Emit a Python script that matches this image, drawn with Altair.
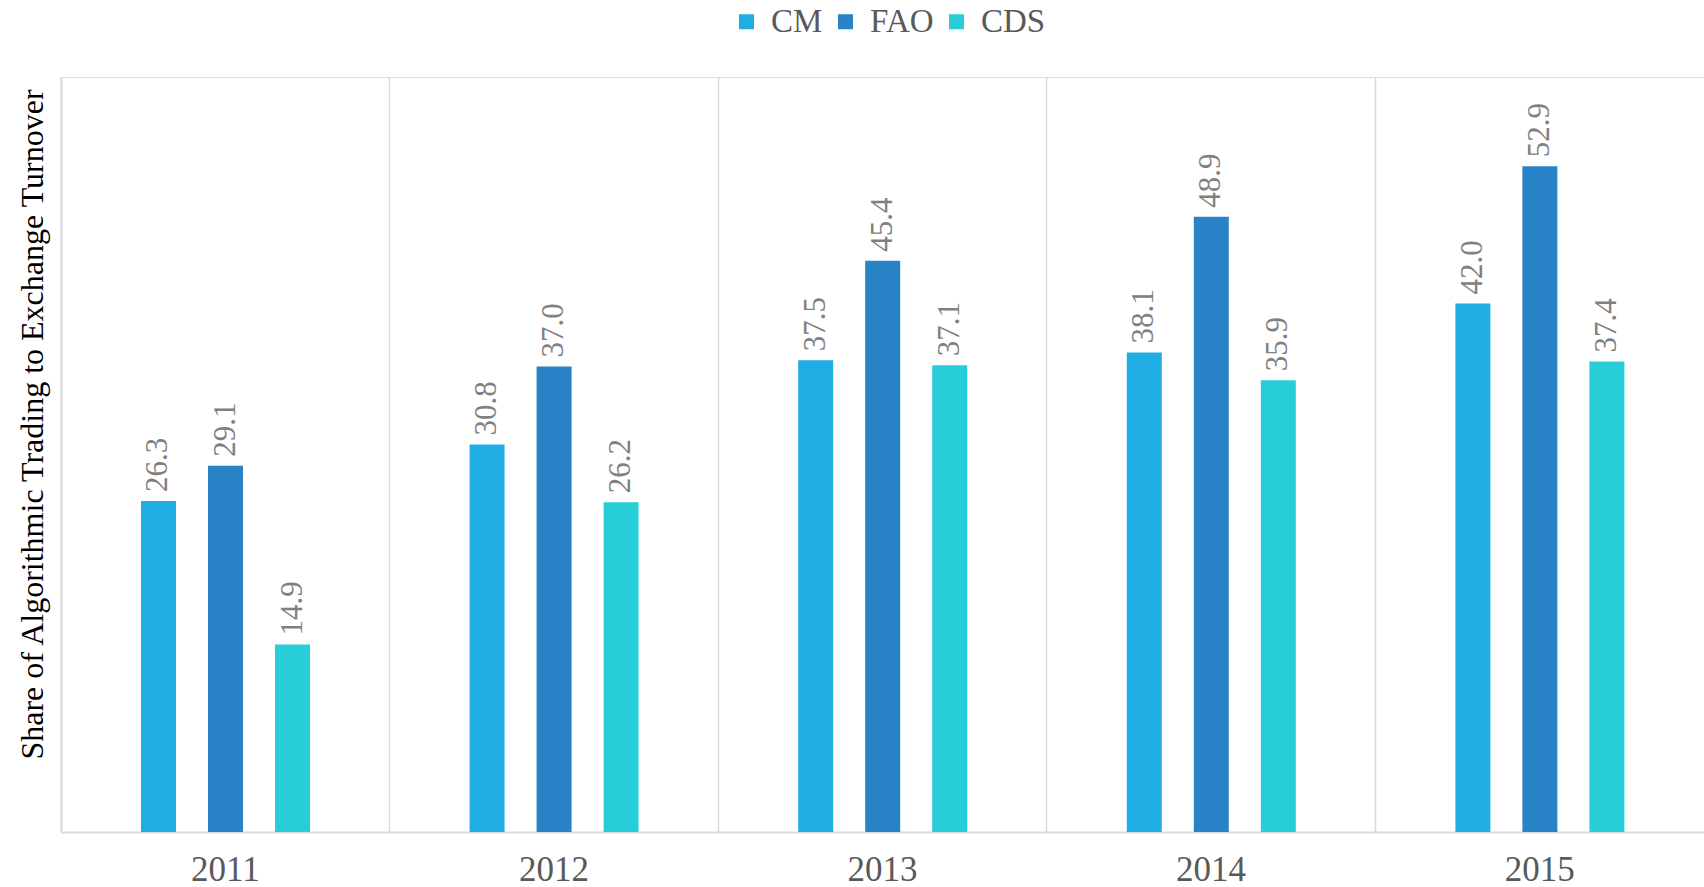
import altair as alt
import pandas as pd

years = ["2011", "2012", "2013", "2014", "2015"]
series = ["CM", "FAO", "CDS"]
cm = [26.3, 30.8, 37.5, 38.1, 42.0]
fao = [29.1, 37.0, 45.4, 48.9, 52.9]
cds = [14.9, 26.2, 37.1, 35.9, 37.4]
colors = ["#1FADE4", "#2783C5", "#27CED7"]

rows = []
for i, y in enumerate(years):
    for s, vals in zip(series, [cm, fao, cds]):
        rows.append({"year": y, "series": s, "value": vals[i]})
df = pd.DataFrame(rows)

FONT = "Liberation Serif"

x = alt.X("year:N", sort=years,
          scale=alt.Scale(paddingInner=0, paddingOuter=0),
          axis=alt.Axis(title=None, labelAngle=0, labelFont=FONT, labelFontSize=35,
                        labelColor="#595959", labelPadding=20, ticks=False,
                        domainColor="#D9D9D9", domainWidth=2,
                        grid=True, gridColor="#D9D9D9", gridWidth=1.5, bandPosition=0))
xo = alt.XOffset("series:N", sort=series,
                 scale=alt.Scale(range=[80, 249], paddingInner=0.478, paddingOuter=0))
y = alt.Y("value:Q", scale=alt.Scale(domain=[0, 60], nice=False),
          axis=alt.Axis(title="Share of Algorithmic Trading to Exchange Turnover",
                        titleFont=FONT, titleFontSize=32, titleFontWeight="normal",
                        titleColor="#000000", titleX=-19, titleY=347,
                        titleAlign="center", titleBaseline="alphabetic", titleAngle=270,
                        labels=False, ticks=False, grid=False,
                        domainColor="#D9D9D9", domainWidth=2))
color = alt.Color("series:N", sort=series,
                  scale=alt.Scale(domain=series, range=colors),
                  legend=alt.Legend(title=None, orient="none", direction="horizontal",
                                    legendX=669, legendY=-72,
                                    symbolType="square", symbolSize=225,
                                    symbolStrokeWidth=0, labelFont=FONT,
                                    labelFontSize=33, labelColor="#595959",
                                    labelOffset=8, columnPadding=6))

bars = alt.Chart(df).mark_bar().encode(x=x, xOffset=xo, y=y, color=color)
labels = alt.Chart(df).mark_text(angle=270, align="left", baseline="middle", dx=9,
                                 font=FONT, fontSize=31, color="#808080").encode(
    x=alt.X("year:N", sort=years), xOffset=alt.XOffset("series:N", sort=series),
    y="value:Q", text=alt.Text("value:Q", format=".1f"))

chart = alt.layer(bars, labels).properties(
    width=1643, height=755,
    autosize=alt.AutoSizeParams(type="none"),
    padding={"left": 61, "top": 77, "right": 0, "bottom": 55},
).configure_view(stroke="transparent", strokeWidth=0).configure(background="white")

chart.save("out.html", embed_options={"renderer": "svg", "actions": False})
